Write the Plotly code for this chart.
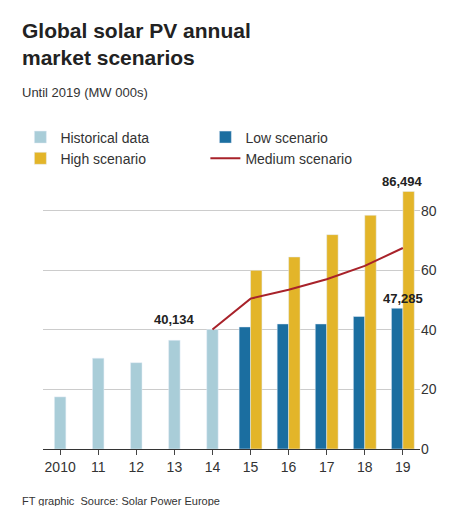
import plotly.graph_objects as go

years_hist = [2010, 2011, 2012, 2013, 2014]
hist = [17.5, 30.5, 29, 36.5, 40.134]
years_scen = [2015, 2016, 2017, 2018, 2019]
low = [41, 42, 42, 44.5, 47.285]
high = [60, 64.5, 72, 78.5, 86.494]
years_med = [2014, 2015, 2016, 2017, 2018, 2019]
medium = [40.134, 50.5, 53.5, 57, 61.5, 67.5]
tick_vals = list(range(2010, 2020))
tick_text = ["2010", "11", "12", "13", "14", "15", "16", "17", "18", "19"]

fig = go.Figure()
fig.add_bar(x=years_hist, y=hist, width=0.3, marker_color="#a9cdd8", name="Historical data")
fig.add_bar(x=years_scen, y=low, width=0.3, offset=-0.3, marker_color="#1b6ea0", name="Low scenario")
fig.add_bar(x=years_scen, y=high, width=0.3, offset=0, marker_color="#e3b529", name="High scenario")
fig.add_scatter(x=years_med, y=medium, mode="lines", line=dict(color="#a8222a", width=2), name="Medium scenario")

ann = [(2013.6, 40.134, "40,134"), (2019, 86.494, "86,494"), (2019, 47.285, "47,285")]
for x, y, t in ann:
    fig.add_annotation(x=x, y=y, text="<b>%s</b>" % t, showarrow=False, yshift=10,
                       xanchor="center" if x == 2019 else "right",
                       font=dict(size=13, color="#222", family="Liberation Sans"))

fig.add_annotation(xref="paper", yref="paper", x=-0.06, y=1.65, xanchor="left", yanchor="top", showarrow=False, align="left",
                   text="<b>Global solar PV annual<br>market scenarios</b>", font=dict(size=21, color="#222", family="Liberation Sans"))
fig.add_annotation(xref="paper", yref="paper", x=-0.06, y=1.36, xanchor="left", yanchor="middle", showarrow=False,
                   text="Until 2019 (MW 000s)", font=dict(size=13, color="#333", family="Liberation Sans"))
fig.add_annotation(xref="paper", yref="paper", x=-0.06, y=-0.2, xanchor="left", yanchor="middle", showarrow=False,
                   text="FT graphic  Source: Solar Power Europe", font=dict(size=11, color="#333", family="Liberation Sans"))

fig.update_layout(
    width=467, height=506, paper_bgcolor="white", plot_bgcolor="white",
    margin=dict(l=32, r=55, t=179, b=65), barmode="overlay",
    font=dict(family="Liberation Sans", size=13, color="#333"),
    legend=dict(orientation="h", x=-0.06, y=1.25, xanchor="left", yanchor="top",
                traceorder="normal", entrywidth=140, font=dict(size=14), itemwidth=30,
                tracegroupgap=0),
    xaxis=dict(tickvals=tick_vals, ticktext=tick_text, range=[2009.55, 2019.45], showgrid=False,
               showline=True, linecolor="#333", ticks="outside", ticklen=5, tickfont=dict(size=14)),
    yaxis=dict(side="right", range=[0, 88], tickvals=[0, 20, 40, 60, 80], gridcolor="#ccc",
               zeroline=False, tickfont=dict(size=14)),
)
fig.write_html("out.html")
